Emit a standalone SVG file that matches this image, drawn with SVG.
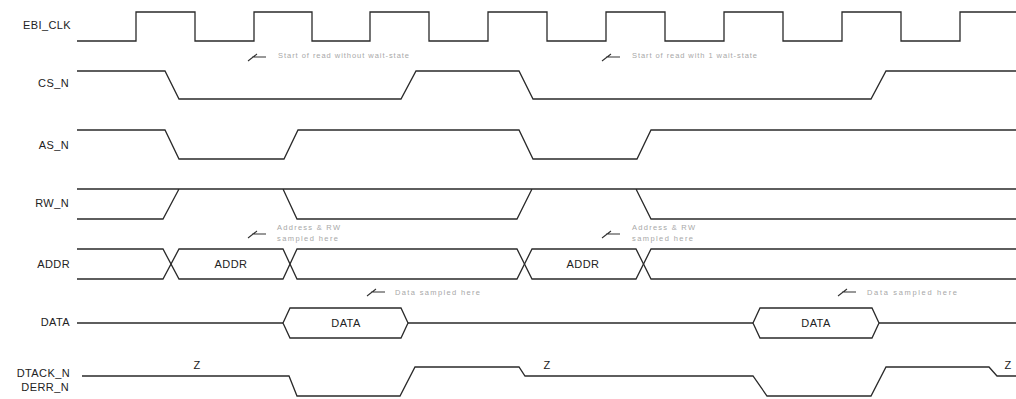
<svg xmlns="http://www.w3.org/2000/svg" width="1016" height="399" viewBox="0 0 1016 399">
<style>
.w{fill:none;stroke:#2a2a2a;stroke-width:1.3;stroke-linejoin:miter}
.lbl{font-family:"Liberation Sans",Arial,sans-serif;font-size:11px;fill:#222;text-anchor:end;letter-spacing:0.4px}
.in{font-family:"Liberation Sans",Arial,sans-serif;font-size:11px;fill:#222;text-anchor:middle;letter-spacing:0.4px}
.note{font-family:"Liberation Sans",Arial,sans-serif;font-size:7.5px;fill:#a8a8a8}
.tick{fill:none;stroke:#333;stroke-width:1.1}
</style>
<rect width="1016" height="399" fill="#fff"/>
<g id="EBI_CLK">
<text class="lbl" x="71" y="29">EBI_CLK</text>
<path class="w" d="M77,41 H136 V12 H195 V41 H254 V12 H312 V41 H370 V12 H429 V41 H488 V12 H547 V41 H606 V12 H665 V41 H724 V12 H783 V41 H842 V12 H901 V41 H960 V12 H1016"/>
</g>
<g id="CS_N">
<text class="lbl" x="69" y="87">CS_N</text>
<path class="w" d="M77,71 H165 L179,99 H401 L416,71 H519 L533,99 H871 L886,71 H1016"/>
</g>
<g id="AS_N">
<text class="lbl" x="69" y="149">AS_N</text>
<path class="w" d="M77,130 H165 L179,159 H284 L298,130 H519 L533,159 H637 L651,130 H1016"/>
</g>
<g id="RW_N">
<text class="lbl" x="69" y="207">RW_N</text>
<path class="w" d="M77,189 H1016 M77,219 H163 L179,189 M283,189 L297,219 H517 L532,189 M636,189 L651,219 H1016"/>
</g>
<g id="ADDR">
<text class="lbl" x="70" y="268">ADDR</text>
<path class="w" d="M77,249 H163 L179,279 H283 L297,249 H517 L532,279 H636 L651,249 H1016"/>
<path class="w" d="M77,279 H163 L179,249 H283 L297,279 H517 L532,249 H636 L651,279 H1016"/>
<text class="in" x="231" y="268">ADDR</text>
<text class="in" x="583" y="268">ADDR</text>
</g>
<g id="DATA">
<text class="lbl" x="70" y="326">DATA</text>
<path class="w" d="M77,323 H283 M408,323 H753 M879,323 H1016"/>
<path class="w" d="M283,323 L290,308 H401 L408,323 L401,338 H290 Z"/>
<path class="w" d="M753,323 L760,308 H872 L879,323 L872,338 H760 Z"/>
<text class="in" x="346" y="327">DATA</text>
<text class="in" x="816" y="327">DATA</text>
</g>
<g id="DTACK_N">
<text class="lbl" x="70" y="377">DTACK_N</text>
<text class="lbl" x="69" y="391">DERR_N</text>
<path class="w" d="M82,376 H289 L297,396 H400 L415,367 H519 L525,376 H753 L767,396 H871 L886,367 H989 L997,376 H1016"/>
<text class="in" x="197" y="369">Z</text>
<text class="in" x="547" y="369">Z</text>
<text class="in" x="1008" y="369">Z</text>
</g>
<g id="connectors">
<path class="tick" d="M248,61 L257,54 M252,57 H266"/>
<text class="note" x="278" y="58" textLength="131">Start of read without wait-state</text>
<path class="tick" d="M602,61 L611,54 M606,57 H620"/>
<text class="note" x="632" y="58" textLength="125">Start of read with 1 wait-state</text>
<path class="tick" d="M248,238 L257,231 M252,234 H266"/>
<text class="note" x="277" y="230" textLength="63">Address &amp; RW</text>
<text class="note" x="277" y="241" textLength="61">sampled here</text>
<path class="tick" d="M602,238 L611,231 M606,234 H620"/>
<text class="note" x="632" y="230" textLength="63">Address &amp; RW</text>
<text class="note" x="632" y="241" textLength="61">sampled here</text>
<path class="tick" d="M367,296 L376,289 M371,292 H385"/>
<text class="note" x="395" y="295" textLength="85">Data sampled here</text>
<path class="tick" d="M838,296 L847,289 M842,292 H856"/>
<text class="note" x="867" y="295" textLength="90">Data sampled here</text>
</g>
</svg>
